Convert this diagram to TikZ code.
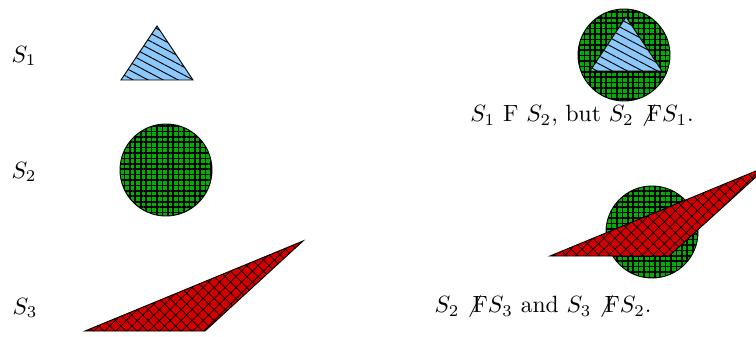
\documentclass[tikz,border=0pt]{standalone}
\usepackage{amsmath}
\usepackage{amssymb}
\usetikzlibrary{patterns.meta}
\definecolor{triblue}{RGB}{140,200,250}
\definecolor{discgreen}{RGB}{0,175,0}
\definecolor{wedgered}{RGB}{210,0,0}
\tikzset{
  setone/.style={draw, preaction={fill=triblue}, pattern={Lines[angle=-28,distance=3pt,line width=0.4pt]}},
  settwo/.style={draw, preaction={fill=discgreen}, pattern={Hatch[angle=0,distance=2.3pt,line width=0.7pt]}},
  setthree/.style={draw, preaction={fill=wedgered}, pattern={Hatch[angle=45,distance=3.3pt,line width=0.3pt]}}
}

\begin{document}
\begin{tikzpicture}[x=0.425pt,y=-0.425pt]
            \useasboundingbox (0,0) rectangle (756,337);
            \clip (0,0) rectangle (756,337);
            % the three sets
            \draw[setone] (121,80) -- (157,26) -- (193,80) -- cycle;
            \draw[settwo] (166,170) circle (46);
            \draw[setthree] (85,331) -- (303,241) -- (205,331) -- cycle;
            \node (l1) at (24,56) {\(S_1\)};
            \node (l2) at (24,172) {\(S_2\)};
            \node (l3) at (25,308) {\(S_3\)};
            % S1 inside S2
            \draw[settwo] (624,55) circle (46);
            \draw[setone] (590,71) -- (626,17) -- (662,71) -- cycle;
            \node (c1) at (582,116) {\(S_1\) F \(S_2\), but \(S_2 \not\mathrm{F} S_1\).};
            % S2 and S3 crossing
            \draw[settwo] (652,232) circle (46);
            \draw[setthree] (550,256) -- (768,166) -- (669,256) -- cycle;
            \node (c2) at (543,307) {\(S_2 \not\mathrm{F} S_3\) and \(S_3 \not\mathrm{F} S_2\).};
\end{tikzpicture}
\end{document}
